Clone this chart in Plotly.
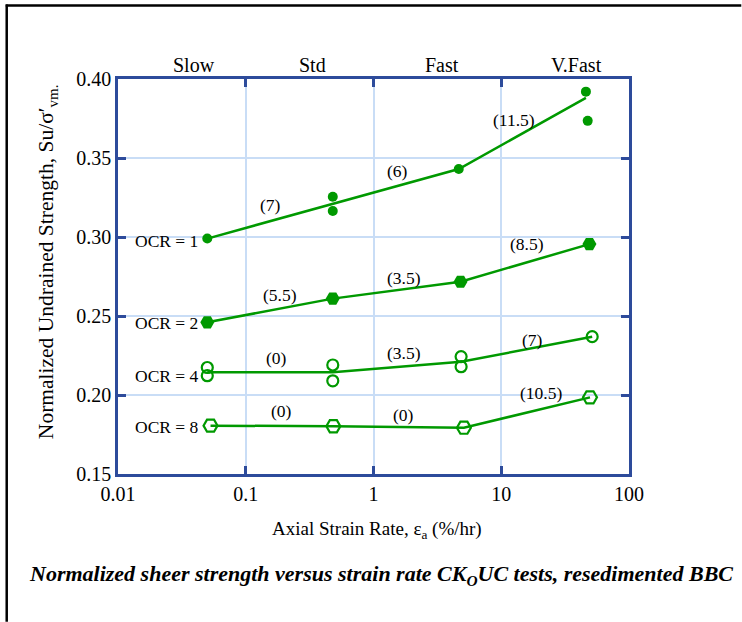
import math
import plotly.graph_objects as go

# Strain rate classes shown along the top
rate_classes = ["Slow", "Std", "Fast", "V.Fast"]
rate_class_x = [0.0394, 0.334, 3.43, 38.9]

# OCR = 1 (individual tests and mean trend)
ocr1_pts_x = [0.05, 0.48, 0.48, 4.65, 46.0, 47.5]
ocr1_pts_y = [0.299, 0.3255, 0.3165, 0.343, 0.392, 0.3735]
ocr1_line_x = [0.05, 0.48, 4.65, 46.0]
ocr1_line_y = [0.299, 0.321, 0.343, 0.388]

# OCR = 2
ocr2_x = [0.05, 0.48, 4.8, 49.0]
ocr2_y = [0.246, 0.261, 0.2717, 0.2955]

# OCR = 4
ocr4_pts_x = [0.05, 0.05, 0.48, 0.48, 4.85, 4.85, 51.5]
ocr4_pts_y = [0.2174, 0.2122, 0.219, 0.209, 0.2243, 0.2179, 0.2369]
ocr4_line_x = [0.05, 0.48, 4.85, 51.5]
ocr4_line_y = [0.2144, 0.2144, 0.221, 0.2369]

# OCR = 8
ocr8_x = [0.053, 0.485, 5.1, 49.5]
ocr8_y = [0.1806, 0.1802, 0.1793, 0.1985]

# Percent increase per log cycle, written beside each segment
rate_effect_text = ["(7)", "(6)", "(11.5)", "(5.5)", "(3.5)", "(8.5)",
                    "(0)", "(3.5)", "(7)", "(0)", "(0)", "(10.5)"]
rate_effect_x = [0.155, 1.55, 12.5, 0.186, 1.73, 15.8,
                 0.173, 1.73, 17.6, 0.189, 1.73, 20.4]
rate_effect_y = [0.3203, 0.3418, 0.374, 0.2633, 0.274, 0.2956,
                 0.2234, 0.2266, 0.2348, 0.1899, 0.1873, 0.2013]

ocr_labels = ["OCR = 1", "OCR = 2", "OCR = 4", "OCR = 8"]
ocr_label_y = [0.2975, 0.2456, 0.212, 0.1797]

x_tick_vals = [0.01, 0.1, 1, 10, 100]
x_tick_text = ["0.01", "0.1", "1", "10", "100"]
y_tick_vals = [0.15, 0.20, 0.25, 0.30, 0.35, 0.40]

GREEN = "#009900"
AXIS_BLUE = "#2d4b9b"
GRID_BLUE = "#c9ddf6"
SERIF = "Liberation Serif"

fig = go.Figure()

line_style = dict(color=GREEN, width=2.5)

fig.add_trace(go.Scatter(x=ocr1_line_x, y=ocr1_line_y, mode="lines", line=line_style))
fig.add_trace(go.Scatter(x=ocr1_pts_x, y=ocr1_pts_y, mode="markers",
                         marker=dict(symbol="circle", size=10, color=GREEN)))

fig.add_trace(go.Scatter(x=ocr2_x, y=ocr2_y, mode="lines+markers", line=line_style,
                         marker=dict(symbol="hexagon2", size=14, color=GREEN)))

fig.add_trace(go.Scatter(x=ocr4_line_x, y=ocr4_line_y, mode="lines", line=line_style))
fig.add_trace(go.Scatter(x=ocr4_pts_x, y=ocr4_pts_y, mode="markers",
                         marker=dict(symbol="circle-open", size=11, color=GREEN,
                                     line=dict(color=GREEN, width=2.2))))

fig.add_trace(go.Scatter(x=ocr8_x, y=ocr8_y, mode="lines+markers", line=line_style,
                         marker=dict(symbol="hexagon2-open", size=14, color=GREEN,
                                     line=dict(color=GREEN, width=2.2))))

# Annotations on a log axis take log10 positions
annotations = []
for txt, xv, yv in zip(rate_effect_text, rate_effect_x, rate_effect_y):
    annotations.append(dict(x=math.log10(xv), y=yv, xref="x", yref="y", text=txt,
                            showarrow=False, xanchor="center", yanchor="middle",
                            font=dict(family=SERIF, size=17.5, color="black")))
for txt, yv in zip(ocr_labels, ocr_label_y):
    annotations.append(dict(x=0.030, y=yv, xref="paper", yref="y", text=txt,
                            showarrow=False, xanchor="left", yanchor="middle",
                            font=dict(family=SERIF, size=17.5, color="black")))
for txt, xv in zip(rate_classes, rate_class_x):
    annotations.append(dict(x=math.log10(xv), y=1, xref="x", yref="paper", text=txt,
                            showarrow=False, xanchor="center", yanchor="bottom", yshift=1,
                            font=dict(family=SERIF, size=20, color="black")))

annotations.append(dict(x=-0.1377, y=0.538, xref="paper", yref="paper",
                        text="Normalized Undrained Strength, Su/σ′<sub>vm.</sub>",
                        textangle=-90, showarrow=False,
                        xanchor="center", yanchor="middle",
                        font=dict(family=SERIF, size=21.5, color="black")))
annotations.append(dict(x=0.507, y=-0.142, xref="paper", yref="paper",
                        text="Axial Strain Rate, ε<sub>a</sub> (%/hr)",
                        showarrow=False, xanchor="center", yanchor="middle",
                        font=dict(family=SERIF, size=19, color="black")))
annotations.append(dict(x=0.515, y=-0.255, xref="paper", yref="paper",
                        text="Normalized sheer strength versus strain rate CK<sub>O</sub>UC tests, resedimented BBC",
                        showarrow=False, xanchor="center", yanchor="middle",
                        font=dict(family=SERIF, size=22, color="black",
                                  weight="bold", style="italic")))

# Outer frame: top and left edges of the figure box
shapes = [
    dict(type="line", xref="paper", yref="paper",
         x0=(5 - 117.5) / 512, x1=(742 - 117.5) / 512,
         y0=(474 - 5) / 395.5, y1=(474 - 5) / 395.5,
         line=dict(color="black", width=2.5)),
    dict(type="line", xref="paper", yref="paper",
         x0=(6 - 117.5) / 512, x1=(6 - 117.5) / 512,
         y0=(474 - 4) / 395.5, y1=(474 - 622) / 395.5,
         line=dict(color="black", width=2.5)),
]

fig.update_layout(
    width=742, height=622,
    margin=dict(l=117.5, r=112.5, t=78.5, b=148),
    paper_bgcolor="white", plot_bgcolor="white",
    showlegend=False,
    annotations=annotations,
    shapes=shapes,
    font=dict(family=SERIF, color="black"),
)

fig.update_xaxes(
    type="log", range=[-2, 2],
    tickvals=x_tick_vals, ticktext=x_tick_text,
    tickfont=dict(family=SERIF, size=20, color="black"),
    showgrid=True, gridcolor=GRID_BLUE, gridwidth=2,
    showline=True, linecolor=AXIS_BLUE, linewidth=2.5, mirror="ticks",
    ticks="inside", ticklen=8, tickwidth=2.5, tickcolor=AXIS_BLUE,
    zeroline=False,
)
fig.update_yaxes(
    range=[0.15, 0.40],
    tickvals=y_tick_vals, tickformat=".2f",
    tickfont=dict(family=SERIF, size=20, color="black"),
    showgrid=True, gridcolor=GRID_BLUE, gridwidth=2,
    showline=True, linecolor=AXIS_BLUE, linewidth=2.5, mirror="ticks",
    ticks="inside", ticklen=8, tickwidth=2.5, tickcolor=AXIS_BLUE,
    zeroline=False,
)

fig.write_html("out.html")
